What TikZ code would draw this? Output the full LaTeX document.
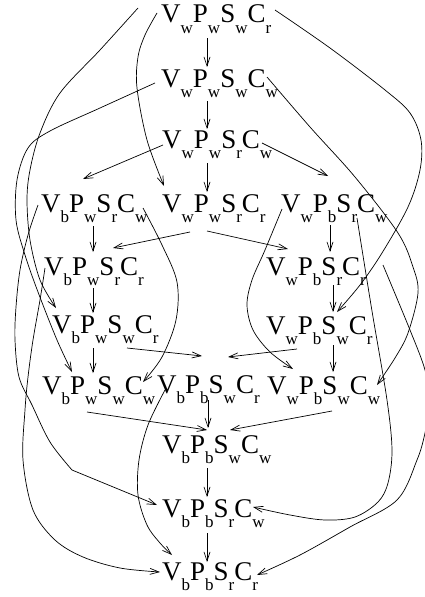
\documentclass[tikz,border=0pt]{standalone}
\usepackage{fontspec}
\setmainfont{Liberation Serif}
\usetikzlibrary{arrows.meta}
\newcommand\sbx[1]{\raisebox{-10pt}{\fontsize{17}{17}\selectfont #1}}
\newcommand\stt[4]{V\sbx{#1}P\sbx{#2}S\sbx{#3}C\sbx{#4}}
\begin{document}
\begin{tikzpicture}[x=1pt,y=-1pt,
  st/.style={inner sep=0pt, anchor=base west, font=\fontsize{27}{27}\selectfont},
  arr/.style={line width=0.7pt, -{Straight Barb[length=9pt,width=6pt]}}]
\useasboundingbox (0,0) rectangle (425,597);
\fill[white] (0,0) rectangle (425,597);
% nodes
\node[st] (n1) at (161,23) {\stt{w}{w}{w}{r}};
\node[st] (n2) at (161,87) {\stt{w}{w}{w}{w}};
\node[st] (n3) at (162,148) {\stt{w}{w}{r}{w}};
\node[st] (a4) at (41,212) {\stt{b}{w}{r}{w}};
\node[st] (b4) at (162,212) {\stt{w}{w}{r}{r}};
\node[st] (c4) at (281,212) {\stt{w}{b}{r}{w}};
\node[st] (a5) at (44,275) {\stt{b}{w}{r}{r}};
\node[st] (c5) at (266,275) {\stt{w}{b}{r}{r}};
\node[st] (a6) at (52,333) {\stt{b}{w}{w}{r}};
\node[st] (c6) at (266,334) {\stt{w}{b}{w}{r}};
\node[st] (a7) at (42,394) {\stt{b}{w}{w}{w}};
\node[st] (b7) at (157,393) {\stt{b}{b}{w}{r}};
\node[st] (c7) at (267,394) {\stt{w}{b}{w}{w}};
\node[st] (n8) at (162,453) {\stt{b}{b}{w}{w}};
\node[st] (n9) at (162,517) {\stt{b}{b}{r}{w}};
\node[st] (n10) at (162,580) {\stt{b}{b}{r}{r}};
% straight connectors
\draw[arr] ([shift={(46,15)}]n1.base west) -- ([shift={(46,-20)}]n2.base west);
\draw[arr] ([shift={(46,14)}]n2.base west) -- ([shift={(45,-19)}]n3.base west);
\draw[arr] ([shift={(45,15)}]n3.base west) -- ([shift={(45,-20)}]b4.base west);
\draw[arr] ([shift={(1,-3)}]n3.base west) -- ([shift={(42,-33)}]a4.base west);
\draw[arr] ([shift={(100,-5)}]n3.base west) -- ([shift={(47,-36)}]c4.base west);
\draw[arr] ([shift={(28,20)}]b4.base west) -- ([shift={(69,-27)}]a5.base west);
\draw[arr] ([shift={(45,19)}]b4.base west) -- ([shift={(22,-26)}]c5.base west);
\draw[arr] ([shift={(52,14)}]a4.base west) -- ([shift={(49,-23)}]a5.base west);
\draw[arr] ([shift={(49,13)}]c4.base west) -- ([shift={(64,-23)}]c5.base west);
\draw[arr] ([shift={(49,13)}]a5.base west) -- ([shift={(41,-20)}]a6.base west);
\draw[arr] ([shift={(67,10)}]c5.base west) -- ([shift={(67,-22)}]c6.base west);
\draw[arr] ([shift={(75,15)}]a6.base west) -- ([shift={(45,-37)}]b7.base west);
\draw[arr] ([shift={(31,15)}]c6.base west) -- ([shift={(71,-36)}]b7.base west);
\draw[arr] ([shift={(41,15)}]a6.base west) -- ([shift={(51,-21)}]a7.base west);
\draw[arr] ([shift={(67,11)}]c6.base west) -- ([shift={(66,-22)}]c7.base west);
\draw[arr] ([shift={(45,18)}]a7.base west) -- ([shift={(45,-23)}]n8.base west);
\draw[arr] ([shift={(65,17)}]c7.base west) -- ([shift={(68,-23)}]n8.base west);
\draw[arr] ([shift={(51,7)}]b7.base west) -- ([shift={(46,-25)}]n8.base west);
\draw[arr] ([shift={(45,15)}]n8.base west) -- ([shift={(45,-20)}]n9.base west);
\draw[arr] ([shift={(45,16)}]n9.base west) -- ([shift={(45,-18)}]n10.base west);
% curved connectors
\draw[arr] plot[smooth,tension=0.55] coordinates {([shift={(-4,-10)}]n1.base west) (145,35) (138,57) (137,88) (147,140) ([shift={(2,-26)}]b4.base west)};
\draw[arr] plot[smooth,tension=0.55] coordinates {([shift={(-23,-15)}]n1.base west) (100,50) (60,93) (40,133) (30,170) (27,200) (30,240) (40,280) ([shift={(4,-25)}]a6.base west)};
\draw[arr] plot[smooth,tension=0.55] coordinates {([shift={(-6,-4)}]n2.base west) (100,108) (50,131) (28,148) (17,180) (16,220) (25,255) (38,292) (57,340) ([shift={(30,-22)}]a7.base west)};
\draw[arr] plot[smooth,tension=0.55] coordinates {([shift={(-3,-7)}]a4.base west) (28,235) (20,270) (16,307) (15,340) (19,377) (32,405) (50,442) (72,470)} -- ([shift={(-5,-12)}]n9.base west);
\draw[arr] plot[smooth,tension=0.55] coordinates {([shift={(1,-7)}]a5.base west) (40,300) (33,340) (28,377) (25,410) (23,460) (33,510) (55,540) (83,557) (120,568) ([shift={(-2,-8)}]n10.base west)};
\draw[arr] plot[smooth,tension=0.55] coordinates {([shift={(102,-4)}]a4.base west) (162,245) (177,282) (176,320) (162,357) ([shift={(101,-12)}]a7.base west)};
\draw[arr] plot[smooth,tension=0.55] coordinates {([shift={(8,-3)}]b7.base west) (148,425) (139,460) (138,495) (147,525) (160,543) ([shift={(10,-25)}]n10.base west)};
\draw[arr] plot[smooth,tension=0.55] coordinates {([shift={(1,-3)}]c4.base west) (265,250) (252,280) (247,305) (253,330) (270,352) ([shift={(26,-25)}]c7.base west)};
\draw[arr] plot[smooth,tension=0.55] coordinates {([shift={(114,-13)}]n1.base west) (330,48) (385,90) (410,113) (421,140) (420,170) (408,207) (382,253) (360,285) ([shift={(71,-22)}]c6.base west)};
\draw[arr] plot[smooth,tension=0.55] coordinates {([shift={(106,-10)}]n2.base west) (310,127) (355,177) (398,233) (413,267) (418,293) (408,333) (395,358) ([shift={(110,-9)}]c7.base west)};
\draw[arr] plot[smooth,tension=0.55] coordinates {([shift={(76,6)}]c4.base west) (365,268) (373,317) (387,400) (392,450) (388,483) (378,502) (355,517) (325,520) (290,515) ([shift={(91,-10)}]n9.base west)};
\draw[arr] plot[smooth,tension=0.55] coordinates {([shift={(117,-10)}]c5.base west) (410,330) (425,370) (430,402) (425,433) (417,460) (397,500) (350,527) (300,555) ([shift={(95,-5)}]n10.base west)};
\end{tikzpicture}
\end{document}
